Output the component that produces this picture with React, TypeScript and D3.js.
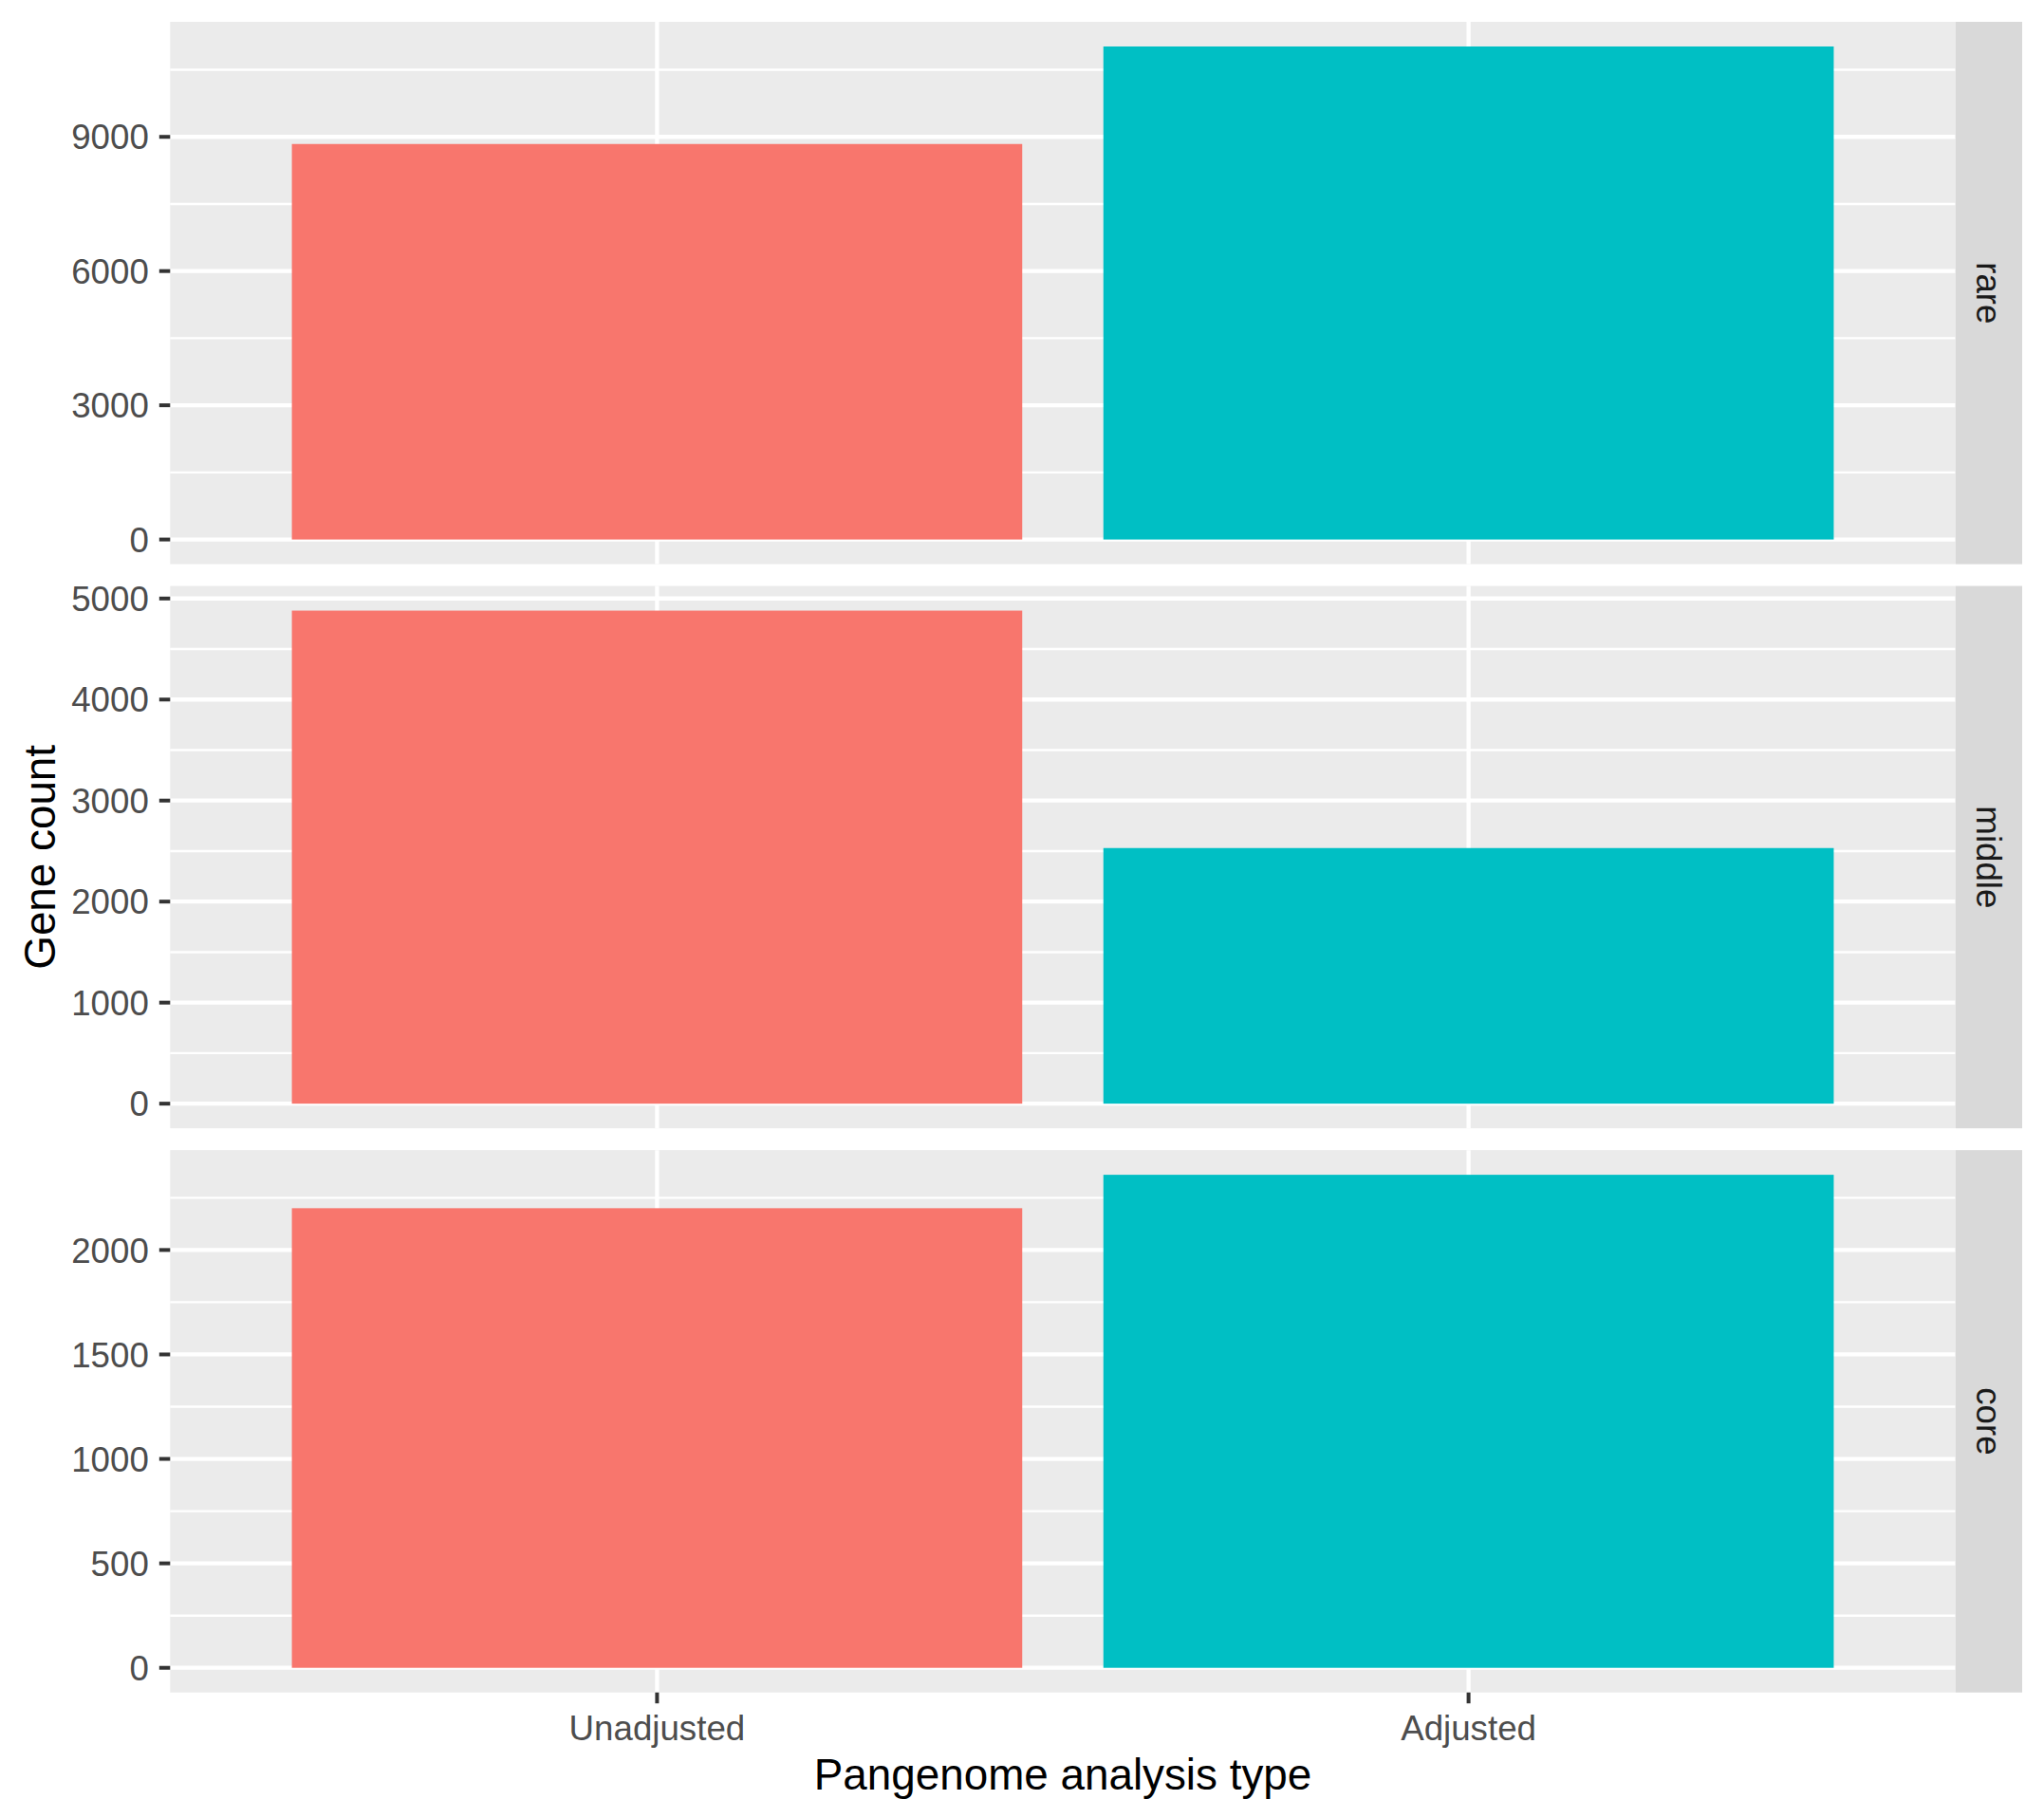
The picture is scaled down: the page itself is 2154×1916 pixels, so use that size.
import { useCallback, useEffect, useRef } from 'react';

import { scaleBand, scaleLinear, select } from 'd3';

// facet rows, top to bottom
const groups = ['rare', 'middle', 'core'];
const types = ['Unadjusted', 'Adjusted'];

// gene counts per facet row
const unadjustedCounts = [8840, 4880, 2200];
const adjustedCounts = [11020, 2530, 2360];

// y tick labels per facet row
const rareTicks = [0, 3000, 6000, 9000];
const middleTicks = [0, 1000, 2000, 3000, 4000, 5000];
const coreTicks = [0, 500, 1000, 1500, 2000];

const fillColors = ['#F8766D', '#00BFC4'];

const FONT = '"Liberation Sans", Arial, Helvetica, sans-serif';

export default function App() {
  const containerRef = useRef<HTMLDivElement>(null);

  const initChart = useCallback(() => {
    const container = containerRef.current;
    if (!container) return;

    document.body.style.margin = '0';

    const W = 2154,
      H = 1916;
    const panelLeft = 179.3,
      panelRight = 2060.7,
      stripRight = 2131,
      plotTop = 23,
      plotBottom = 1783.7,
      spacing = 23;
    const panelH = (plotBottom - plotTop - 2 * spacing) / 3;

    const tickSets = [rareTicks, middleTicks, coreTicks];

    const div = select(container);
    div.select('svg').remove();

    const svg = div
      .append('svg')
      .attr('width', W)
      .attr('height', H)
      .style('display', 'block')
      .style('background', '#ffffff');

    // X scale (shared by all rows)
    const x = scaleBand<string>()
      .domain(types)
      .range([panelLeft, panelRight])
      .paddingInner(0.1)
      .paddingOuter(0.15);
    const xc = (d: string) => (x(d) || 0) + x.bandwidth() / 2;

    groups.forEach((group, i) => {
      const top = plotTop + i * (panelH + spacing);
      const bottom = top + panelH;
      const values = [unadjustedCounts[i], adjustedCounts[i]];
      const maxV = Math.max(...values);
      const y = scaleLinear()
        .domain([-0.05 * maxV, 1.05 * maxV])
        .range([bottom, top]);

      const ticks = tickSets[i];
      const step = ticks[1] - ticks[0];
      const minor: number[] = [];
      for (let k = 0; k <= ticks.length; k++) {
        const v = ticks[0] + step * k - step / 2;
        if (v > y.domain()[0] && v < y.domain()[1]) minor.push(v);
      }

      const g = svg.append('g').attr('class', `panel-${group}`);

      // panel background
      g.append('rect')
        .attr('x', panelLeft)
        .attr('y', top)
        .attr('width', panelRight - panelLeft)
        .attr('height', panelH)
        .attr('fill', '#EBEBEB');

      // minor grid
      g.append('g')
        .selectAll('line')
        .data(minor)
        .join('line')
        .attr('x1', panelLeft)
        .attr('x2', panelRight)
        .attr('y1', (d) => y(d))
        .attr('y2', (d) => y(d))
        .attr('stroke', '#ffffff')
        .attr('stroke-width', 2.4);

      // major grid
      g.append('g')
        .selectAll('line')
        .data(ticks)
        .join('line')
        .attr('x1', panelLeft)
        .attr('x2', panelRight)
        .attr('y1', (d) => y(d))
        .attr('y2', (d) => y(d))
        .attr('stroke', '#ffffff')
        .attr('stroke-width', 4.3);

      g.append('g')
        .selectAll('line')
        .data(types)
        .join('line')
        .attr('x1', (d) => xc(d))
        .attr('x2', (d) => xc(d))
        .attr('y1', top)
        .attr('y2', bottom)
        .attr('stroke', '#ffffff')
        .attr('stroke-width', 4.3);

      // bars
      g.append('g')
        .attr('class', 'bars')
        .selectAll('rect')
        .data(types)
        .join('rect')
        .attr('x', (d) => x(d) || 0)
        .attr('width', x.bandwidth())
        .attr('y', (_d, j) => y(values[j]))
        .attr('height', (_d, j) => y(0) - y(values[j]))
        .attr('fill', (_d, j) => fillColors[j]);

      // y axis ticks + labels
      const ax = g.append('g').attr('class', 'y-axis');
      ax.selectAll('line')
        .data(ticks)
        .join('line')
        .attr('x1', panelLeft - 11.5)
        .attr('x2', panelLeft)
        .attr('y1', (d) => y(d))
        .attr('y2', (d) => y(d))
        .attr('stroke', '#333333')
        .attr('stroke-width', 4);
      ax.selectAll('text')
        .data(ticks)
        .join('text')
        .attr('x', panelLeft - 22.5)
        .attr('y', (d) => y(d))
        .attr('dy', '0.36em')
        .attr('text-anchor', 'end')
        .attr('font-family', FONT)
        .attr('font-size', 36.7)
        .attr('fill', '#4D4D4D')
        .text((d) => String(d));

      // facet strip
      g.append('rect')
        .attr('x', panelRight)
        .attr('y', top)
        .attr('width', stripRight - panelRight)
        .attr('height', panelH)
        .attr('fill', '#D9D9D9');
      const sx = (panelRight + stripRight) / 2;
      const sy = (top + bottom) / 2;
      g.append('text')
        .attr('transform', `translate(${sx},${sy}) rotate(90)`)
        .attr('text-anchor', 'middle')
        .attr('dy', '0.36em')
        .attr('font-family', FONT)
        .attr('font-size', 36.7)
        .attr('fill', '#1A1A1A')
        .text(group);
    });

    // X axis
    const xa = svg.append('g').attr('class', 'x-axis');
    xa.selectAll('line')
      .data(types)
      .join('line')
      .attr('x1', (d) => xc(d))
      .attr('x2', (d) => xc(d))
      .attr('y1', plotBottom)
      .attr('y2', plotBottom + 11.5)
      .attr('stroke', '#333333')
      .attr('stroke-width', 4);
    xa.selectAll('text')
      .data(types)
      .join('text')
      .attr('x', (d) => xc(d))
      .attr('y', plotBottom + 50)
      .attr('text-anchor', 'middle')
      .attr('font-family', FONT)
      .attr('font-size', 36.7)
      .attr('fill', '#4D4D4D')
      .text((d) => d);

    // axis titles
    svg
      .append('text')
      .attr('x', (panelLeft + panelRight) / 2)
      .attr('y', 1886)
      .attr('text-anchor', 'middle')
      .attr('font-family', FONT)
      .attr('font-size', 45.8)
      .attr('fill', '#000000')
      .text('Pangenome analysis type');

    svg
      .append('text')
      .attr('transform', `translate(58,${(plotTop + plotBottom) / 2}) rotate(-90)`)
      .attr('text-anchor', 'middle')
      .attr('font-family', FONT)
      .attr('font-size', 45.8)
      .attr('fill', '#000000')
      .text('Gene count');
  }, []);

  const destroyChart = useCallback(() => {
    const container = containerRef.current;
    if (!container) return;

    select(container).select('svg').remove();
  }, []);

  useEffect(() => {
    initChart();
    return destroyChart;
  }, [destroyChart, initChart]);

  return <div ref={containerRef} style={{ background: '#fff' }} />;
}
